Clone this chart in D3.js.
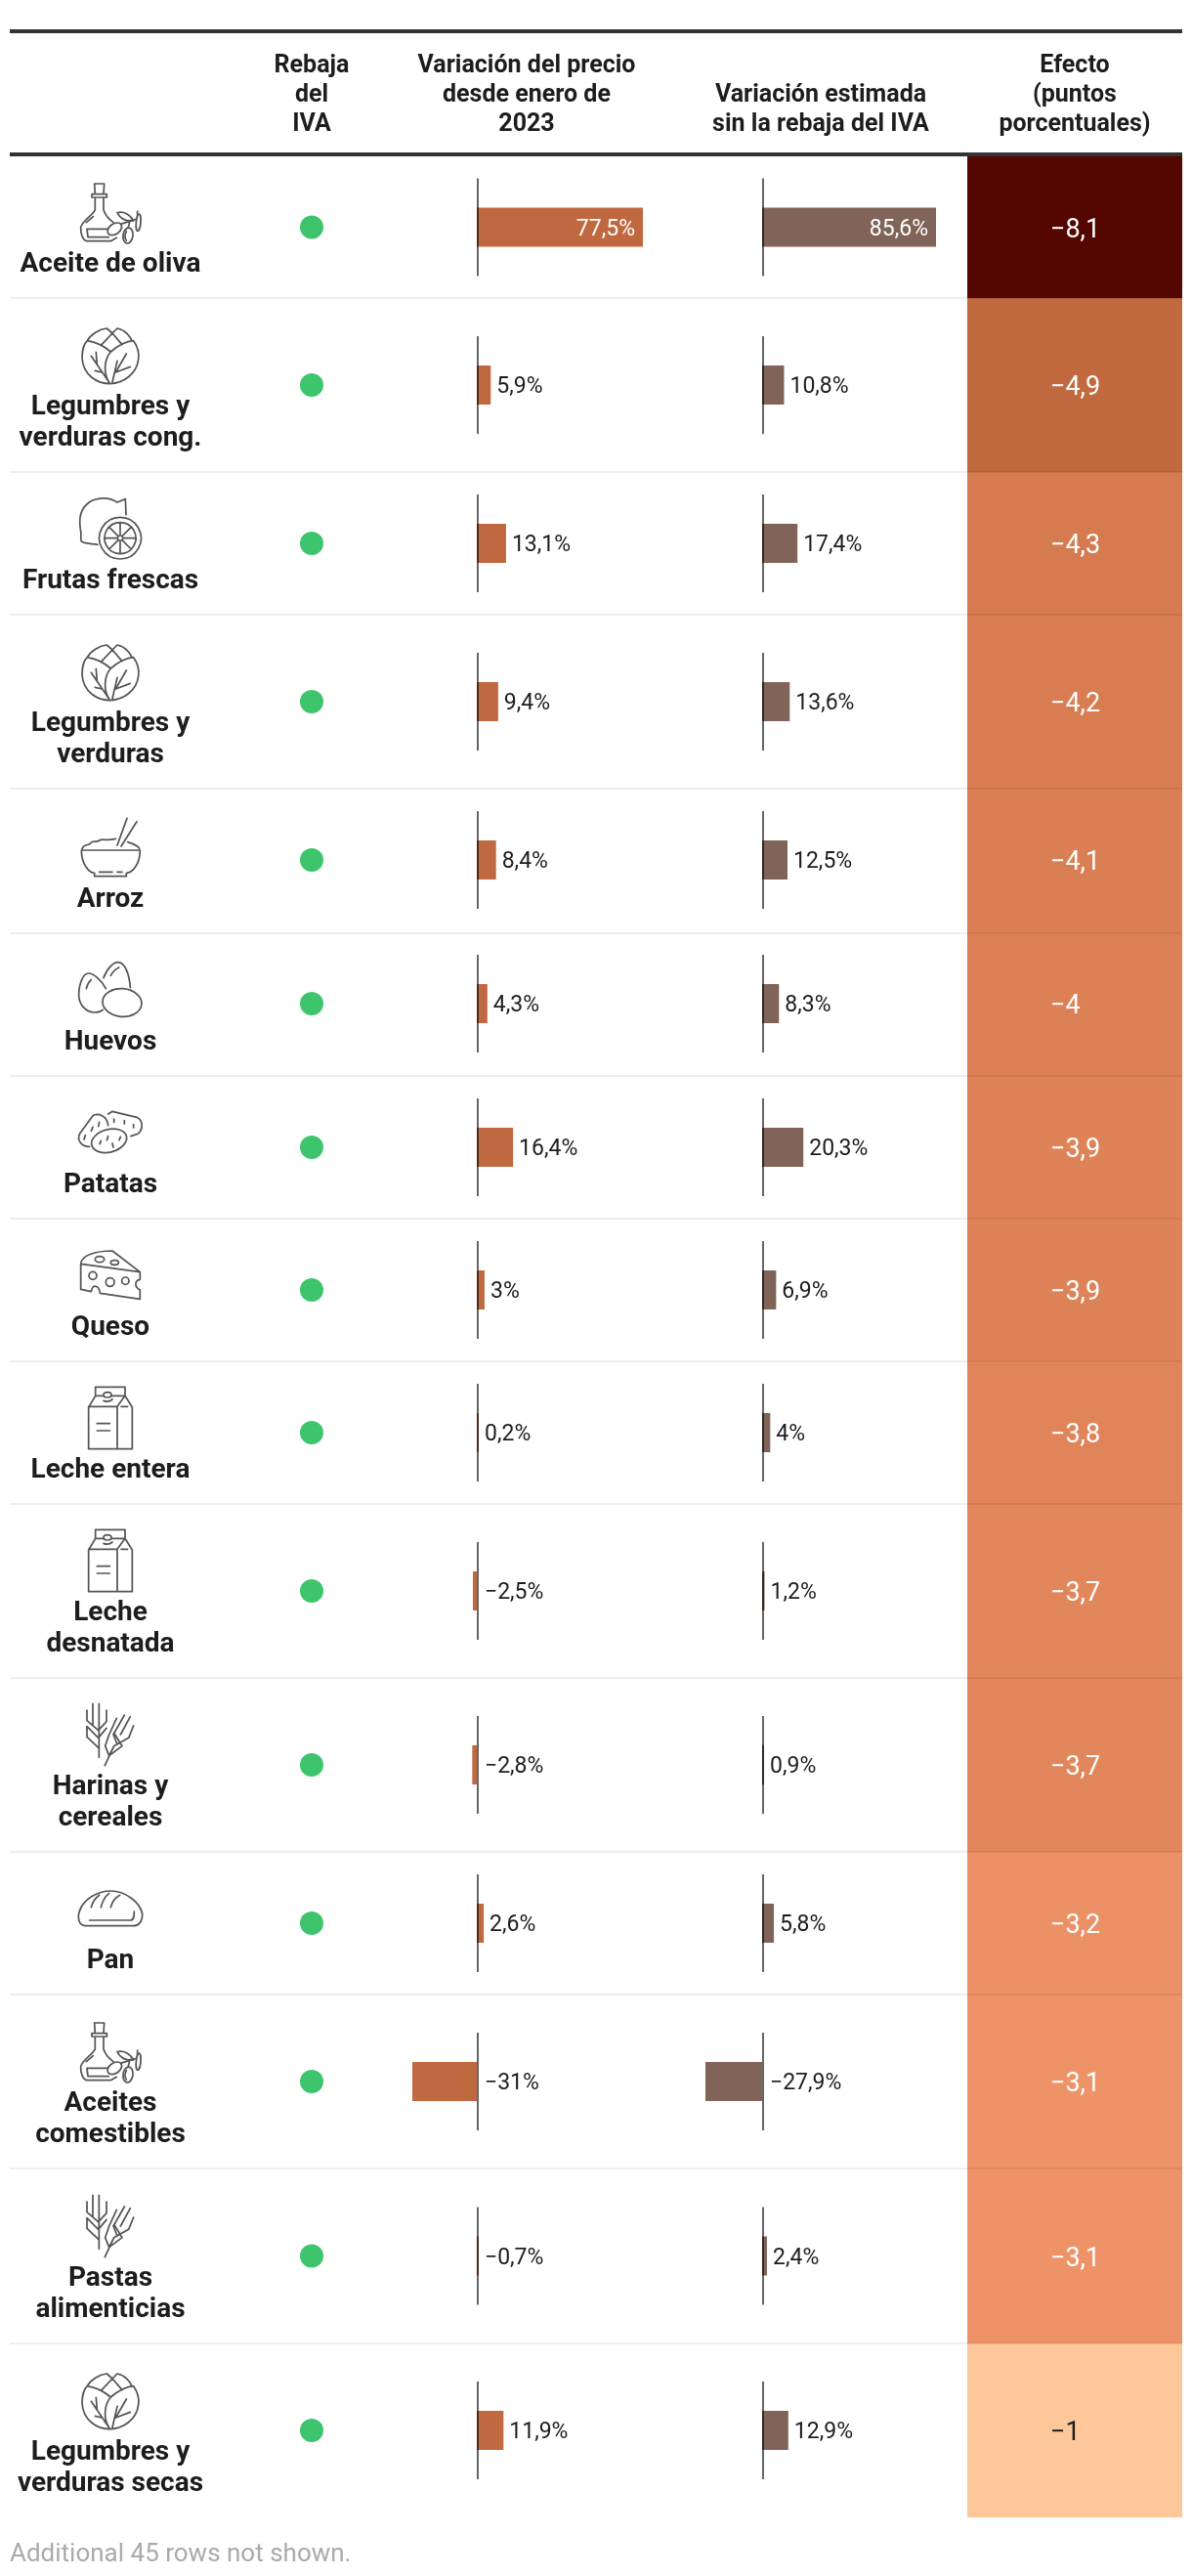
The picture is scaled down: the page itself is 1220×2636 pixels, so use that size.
<!DOCTYPE html>
<html><head><meta charset="utf-8">
<script src="https://cdn.jsdelivr.net/npm/d3@7"></script>
<style>
html,body{margin:0;padding:0;background:#fff}
svg{display:block}
text{font-family:Roboto,sans-serif}
</style></head><body>
<svg id="c" width="1220" height="2636"></svg>
<script>
// DATA
const labels=[["Aceite de oliva"],["Legumbres y","verduras cong."],["Frutas frescas"],["Legumbres y","verduras"],["Arroz"],["Huevos"],["Patatas"],["Queso"],["Leche entera"],["Leche","desnatada"],["Harinas y","cereales"],["Pan"],["Aceites","comestibles"],["Pastas","alimenticias"],["Legumbres y","verduras secas"]];
const icons=["oil","cabbage","lemon","cabbage","rice","eggs","potato","cheese","milk","milk","wheat","bread","oil","wheat","cabbage"];
const variacion=[77.5,5.9,13.1,9.4,8.4,4.3,16.4,3,0.2,-2.5,-2.8,2.6,-31,-0.7,11.9];
const sinRebaja=[85.6,10.8,17.4,13.6,12.5,8.3,20.3,6.9,4,1.2,0.9,5.8,-27.9,2.4,12.9];
const efecto=[-8.1,-4.9,-4.3,-4.2,-4.1,-4,-3.9,-3.9,-3.8,-3.7,-3.7,-3.2,-3.1,-3.1,-1];
const headers=[{x:319,lines:["Rebaja","del","IVA"]},{x:539,lines:["Variación del precio","desde enero de","2023"]},{x:840,lines:["","Variación estimada","sin la rebaja del IVA"]},{x:1100,lines:["Efecto","(puntos","porcentuales)"]}];
const footer="Additional 45 rows not shown.";

// LAYOUT
const rowEdges=[160,305,483,629,807,955,1101,1247,1393,1539,1717,1895,2041,2219,2398,2576];
const rowNudge=[0,0,0,0,-1,-1,0,0,0,0,0,0,0,0,0];
const L=10,R=1210,cellX=990;

// Icons, drawn by hand in 3x crop coordinates; origin relative to (0, first label baseline)
const iconDefs={
 oil:{ox:70,oy:-101,d:"M80,36H110L108,68H82ZM72,68H118V78H72ZM82,78V116C78,130 42,150 38,170C37,190 45,212 58,212H130L148,202M108,78V116C112,130 125,145 138,155M57,175H124M57,175L60,200H124M55,155L76,137M150,125C170,120 190,130 200,150C180,152 160,145 150,125M160,160L205,146M183,172L190,148M212,120V146M150,125",
   ell:[[142,175,24,16,-35],[183,195,15,24,8],[215,155,7,26,5]],extra:"M178,182C172,195 174,205 178,210"},
 cabbage:{ox:70,oy:-97,d:"M128,200C90,200 45,175 42,120C42,95 50,75 58,68C85,72 110,85 130,102C150,85 175,70 200,68C212,85 218,105 215,125C210,170 170,198 128,200ZM128,200C105,170 110,125 130,102M70,115L125,196M85,103L88,142M103,165L82,160M135,195L150,130M145,165L178,108M145,165L190,148M58,68C68,50 95,32 118,30L135,45L100,82M135,45L150,30C175,35 190,55 195,68M135,45L165,80"},
 lemon:{ox:0,oy:-121,d:"M387,140L385,92L360,102C335,85 295,85 270,105C245,125 243,160 247,185C252,200 245,215 250,222C265,232 285,228 300,232M369,148A64,64 0 1 0 369.1,148ZM369,164A48,48 0 1 0 369.1,164ZM369,204A8,8 0 1 0 369.1,204ZM369,204V164M369,220V260M361,212H321M377,212H417M363,206L335,178M375,206L403,178M363,218L335,246M375,218L403,246"},
 rice:{ox:0,oy:-447,d:"M390,1072L360,1155M420,1082L372,1158M250,1170H430M250,1170C250,1215 275,1240 290,1240V1250H388V1240C405,1240 430,1215 430,1170M252,1165C258,1150 270,1158 278,1148C285,1138 295,1148 305,1140C315,1134 325,1142 355,1135M392,1145C405,1150 420,1152 428,1165M305,1237H345M360,1237H375"},
 eggs:{ox:70,oy:-103,d:"M115,125C100,95 75,78 62,78C45,78 32,110 32,145C32,175 55,198 80,198C90,198 100,195 106,190M55,125C58,112 62,105 70,98M108,92C120,60 140,44 152,44C175,44 188,85 190,122M130,85C135,75 145,65 155,60",ell:[[165,168,60,43,5]]},
 potato:{ox:0,oy:-159,d:"M275,340C250,340 235,320 245,300L285,245C300,235 330,245 332,275M332,240L345,232L420,250C440,260 440,285 425,300L402,308M285,280L280,292M305,265L302,278M262,305L258,318M350,255V265M382,260V270M410,272V282",ell:[[335,322,55,35,-15]],over:"M310,322L306,332M332,308L328,320M345,330L348,342M370,310L366,320"},
 cheese:{ox:0,oy:-305,d:"M248,700C250,675 290,660 345,660L430,725ZM248,700V778L280,785C283,760 305,765 307,790L430,808V780C410,770 415,750 430,748V725",ell:[[306,686,14,9,0],[352,696,12,7,0],[285,736,12,12,0],[338,756,13,13,0],[385,752,11,11,0]]},
 milk:{ox:0,oy:-451,d:"M293,1105V1078H384V1105ZM293,1105L272,1140V1268H406V1140L384,1105M272,1138H360V1268M360,1138L384,1105M372,1138H392M298,1190H337M298,1212H337M318,1120C328,1124 338,1122 345,1116",ell:[[330,1102,12,8,0]]},
 wheat:{ox:70,oy:-105,d:"M75,40V105M94,40V205M57,60V92L92,122L117,95V60M57,110L92,145L117,115M57,110V142L92,175M112,230L140,170M172,75L138,135M190,80L160,135M148,85L125,135L113,170L125,200L140,170L185,145L200,108M140,130L165,170L125,200M138,135L150,165"},
 bread:{ox:0,oy:-473,d:"M262,1292C240,1290 238,1265 243,1250C255,1210 300,1185 340,1185C385,1185 430,1220 437,1255C438,1280 425,1292 410,1292ZM275,1275H400C412,1275 412,1260 412,1248M280,1235C285,1215 295,1205 305,1198M310,1235C315,1215 325,1200 335,1192M340,1235C345,1215 355,1205 368,1198"}
};

const svg=d3.select("#c");
const rows=labels.map((l,i)=>({label:l,icon:icons[i],v1:variacion[i],v2:sinRebaja[i],e:efecto[i],top:rowEdges[i],bot:rowEdges[i+1],cy:(rowEdges[i]+rowEdges[i+1])/2+rowNudge[i]}));

const x1=d3.scaleLinear().domain([d3.min(variacion),d3.max(variacion)]).range([422,658]);
const x2=d3.scaleLinear().domain([d3.min(sinRebaja),d3.max(sinRebaja)]).range([722,958]);
const color=d3.scaleLinear().domain([-8.1,-4.9,-4.3,-3.1,-1]).range(["#540700","#c1693f","#d67b50","#ee9367","#fec79a"]);
const fmt=v=>String(Math.abs(v)).replace(".",",");
const signed=v=>(v<0?"−":"")+fmt(v);

// effect cells
svg.append("g").selectAll("rect").data(rows).join("rect")
 .attr("x",cellX).attr("width",R-cellX).attr("y",d=>d.top).attr("height",d=>d.bot-d.top).attr("fill",d=>color(d.e));
svg.append("g").selectAll("text").data(rows).join("text")
 .attr("x",1075).attr("y",d=>d.cy+10).attr("font-size",27).attr("font-weight",400)
 .attr("fill",d=>d.e>-2?"#1d1d1d":"#fff").text(d=>signed(d.e));

// separators
svg.append("g").selectAll("line").data(rows.slice(0,-1)).join("line")
 .attr("x1",L).attr("x2",R).attr("y1",d=>d.bot).attr("y2",d=>d.bot)
 .attr("stroke","rgba(0,0,0,0.065)").attr("stroke-width",2);

// header rules
[32,158].forEach(y=>svg.append("rect").attr("x",L).attr("width",R-L).attr("y",y-2).attr("height",4).attr("fill","#333"));

// headers
headers.forEach(h=>{
 h.lines.forEach((t,i)=>svg.append("text").attr("x",h.x).attr("y",74+i*30).attr("text-anchor","middle")
   .attr("font-size",25).attr("font-weight",700).attr("fill","#1d1d1d").text(t));
});

// icons and labels
const gr=svg.append("g").selectAll("g").data(rows).join("g");
gr.each(function(d){
 const g=d3.select(this), n=d.label.length;
 const last=d.bot-27, first=last-(n-1)*32;
 d.label.forEach((t,i)=>g.append("text").attr("x",113).attr("y",first+i*32).attr("text-anchor","middle")
   .attr("font-size",28).attr("font-weight",700).attr("fill","#1d1d1d").text(t));
 const ic=iconDefs[d.icon];
 const ig=g.append("g").attr("transform",`translate(${ic.ox},${first-1+ic.oy}) scale(${1/3})`)
   .attr("fill","none").attr("stroke","#555").attr("stroke-width",5.2).attr("stroke-linecap","round").attr("stroke-linejoin","round");
 ig.append("path").attr("d",ic.d+(ic.extra||""));
 (ic.ell||[]).forEach(e=>ig.append("ellipse").attr("cx",e[0]).attr("cy",e[1]).attr("rx",e[2]).attr("ry",e[3])
   .attr("transform",`rotate(${e[4]} ${e[0]} ${e[1]})`).attr("fill","#fff"));
 if(ic.extra) ig.append("path").attr("d",ic.extra);
 if(ic.over) ig.append("path").attr("d",ic.over);
});

// green dots
svg.append("g").selectAll("circle").data(rows).join("circle")
 .attr("cx",319).attr("cy",d=>d.cy).attr("r",12).attr("fill","#3ec46d");

// bar columns
function column(key,x,fill,zero){
 const g=svg.append("g");
 const x0=d=>d[key]<0?Math.min(x(d[key]),zero):zero;
 const w=d=>d[key]<0?Math.max(zero-x(d[key]),2):Math.max(2,x(d[key])-zero);
 g.selectAll("rect.bar").data(rows).join("rect").attr("class","bar")
  .attr("x",x0).attr("width",w)
  .attr("y",d=>d.cy-20).attr("height",40).attr("fill",fill);
 g.selectAll("rect.axis").data(rows).join("rect").attr("class","axis")
  .attr("x",zero).attr("width",2).attr("y",d=>d.cy-50).attr("height",100).attr("fill","#666").style("mix-blend-mode","multiply");
 g.selectAll("text").data(rows).join("text")
  .attr("x",d=>{const v=d[key];
    if(v>50) return x(v)-8;
    return v<0?zero+8:Math.max(x(v),zero+2)+6;})
  .attr("text-anchor",d=>d[key]>50?"end":"start")
  .attr("y",d=>d.cy+8).attr("font-size",23).attr("font-weight",400)
  .attr("fill",d=>d[key]>50?"#fff":"#1d1d1d").text(d=>signed(d[key])+"%");
}
column("v1",x1,"#c0683f",488);
column("v2",x2,"#806458",780);

svg.append("text").attr("x",L).attr("y",2621).attr("font-size",26).attr("fill","#aaa").text(footer);
</script>
</body></html>
